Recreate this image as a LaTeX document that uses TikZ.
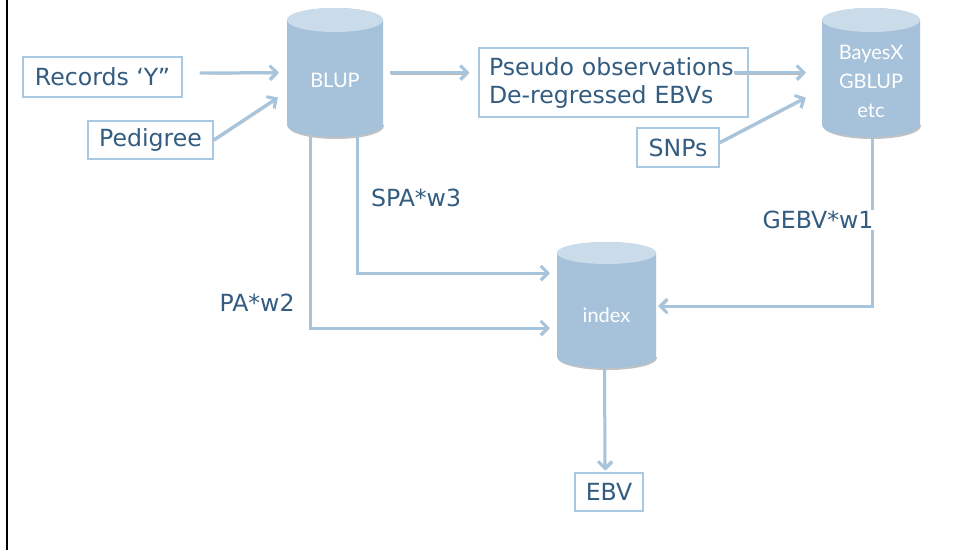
\documentclass[tikz,border=0pt]{standalone}
\usepackage{fontspec}
\setmainfont{DejaVu Sans}
\newfontfamily\cylfont{Lato}
\usetikzlibrary{arrows.meta,calc}

\definecolor{txtblue}{HTML}{335C80}
\definecolor{boxline}{HTML}{A9C8E1}
\definecolor{linkblue}{HTML}{A7C4DD}
\definecolor{cylbody}{HTML}{A6C2DA}
\definecolor{cyltop}{HTML}{CADCEA}

\tikzset{
  infobox/.style={draw=boxline, line width=1.2pt, fill=white, text=txtblue,
    inner sep=0pt, font=\fontsize{23.6}{28}\selectfont},
  weightlabel/.style={text=txtblue, inner sep=1pt, font=\fontsize{23.6}{28}\selectfont},
  cyltext/.style={text=white, align=center, inner sep=0pt,
    font=\cylfont\fontsize{20}{29}\selectfont},
  cylarea/.style={inner sep=0pt, draw=none},
  link/.style={draw=linkblue, line width=3pt,
    -{Straight Barb[length=7pt,width=14pt]},
    preaction={draw=black!28, transform canvas={shift={(1pt,-1.5pt)}}}},
}

% database cylinder: #1 name, #2 left, #3 right, #4 top, #5 bottom, #6 end radius
\newcommand\dbcylinder[6]{%
  \pgfmathsetmacro\cylcx{(#2+#3)/2}%
  \pgfmathsetmacro\cylrx{(#3-#2)/2}%
  \pgfmathsetmacro\cylcy{(#4+#5)/2}%
  \pgfmathsetmacro\cylh{#5-#4}%
  \pgfmathsetmacro\cylw{#3-#2}%
  \pgfmathsetmacro\cyltc{#4+#6}%
  \pgfmathsetmacro\cylbc{#5-#6}%
  \fill[black!40, opacity=0.6] (#2+1,-\cylbc-1) arc[start angle=180, end angle=360,
    x radius=\cylrx, y radius=#6+1] -- (#3+1,-\cylbc) -- cycle;
  \fill[cylbody] (#2,-\cyltc) -- (#2,-\cylbc)
    arc[start angle=180, end angle=360, x radius=\cylrx, y radius=#6]
    -- (#3,-\cyltc)
    arc[start angle=0, end angle=180, x radius=\cylrx, y radius=#6] -- cycle;
  \fill[cyltop] (\cylcx,-\cyltc) ellipse[x radius=\cylrx, y radius=#6];
  \node[cylarea, minimum width=\cylw pt, minimum height=\cylh pt] (#1) at (\cylcx,-\cylcy) {};
}

\begin{document}
\begin{tikzpicture}[x=1pt, y=1pt]
  \useasboundingbox (0,0) rectangle (957,-550);
  \draw[line width=2pt] (7,0) -- (7,-550);

  % cylinders
  \dbcylinder{blup}{287}{383}{8}{137}{12}
  \node[cyltext] (blup-t) at (335,-80) {BLUP};
  \dbcylinder{bayes}{822}{920}{8}{137}{12}
  \node[cyltext] (bayes-t) at (871,-81) {BayesX\\GBLUP\\etc};
  \dbcylinder{index}{557}{656}{242}{368}{11}
  \node[cyltext] (index-t) at (606.5,-315) {index};

  % boxes
  \node[infobox, minimum width=159pt, minimum height=40pt] (rec) at (102.5,-77) {Records ‘Y”};
  \node[infobox, minimum width=125pt, minimum height=38pt] (ped) at (150.5,-140) {Pedigree};
  \node[infobox, minimum width=269pt, minimum height=69pt, text width=249pt,
        align=left, inner xsep=10pt] (pseudo) at (613.5,-82.5)
        {Pseudo observations\\De-regressed EBVs};
  \node[infobox, minimum width=82pt, minimum height=39pt] (snps) at (678,-147.5) {SNPs};
  \node[infobox, minimum width=68pt, minimum height=38pt] (ebv) at (609,-492) {EBV};

  % weight labels
  \node[weightlabel] (spa) at (416,-198) {SPA*w3};
  \node[weightlabel] (pa) at (257,-303) {PA*w2};

  % inputs
  \draw[link] ([xshift=17pt,yshift=4pt]rec.east) -- ([xshift=-8pt]blup.west);
  \draw[link] (ped.east) -- ([xshift=-9pt,yshift=-25pt]blup.west);
  \draw[link] ([xshift=7pt]blup.east) -- ($(pseudo.west |- blup.east)+(-9,0)$);
  \draw[link] ($(pseudo.east |- bayes.west)+(-15,0)$) -- ([xshift=-16pt]bayes.west);
  \draw[link] ([yshift=5pt]snps.east) -- ([xshift=-16pt,yshift=-25pt]bayes.west);

  % weighted paths into the index
  \draw[link] ([xshift=22pt]blup.south) |- ([xshift=-7pt,yshift=32pt]index.west);
  \draw[link] ([xshift=-25pt]blup.south) |- ([xshift=-7pt,yshift=-23pt]index.west);
  \draw[link] ([xshift=1pt]bayes.south) |- ([xshift=2pt,yshift=-1pt]index.east);
  \node[weightlabel, fill=white] (gebv) at (818,-220) {GEBV*w1};

  % result
  \draw[link] ([xshift=-2pt]index.south) -- ([xshift=-4pt,yshift=2pt]ebv.north);
\end{tikzpicture}
\end{document}
